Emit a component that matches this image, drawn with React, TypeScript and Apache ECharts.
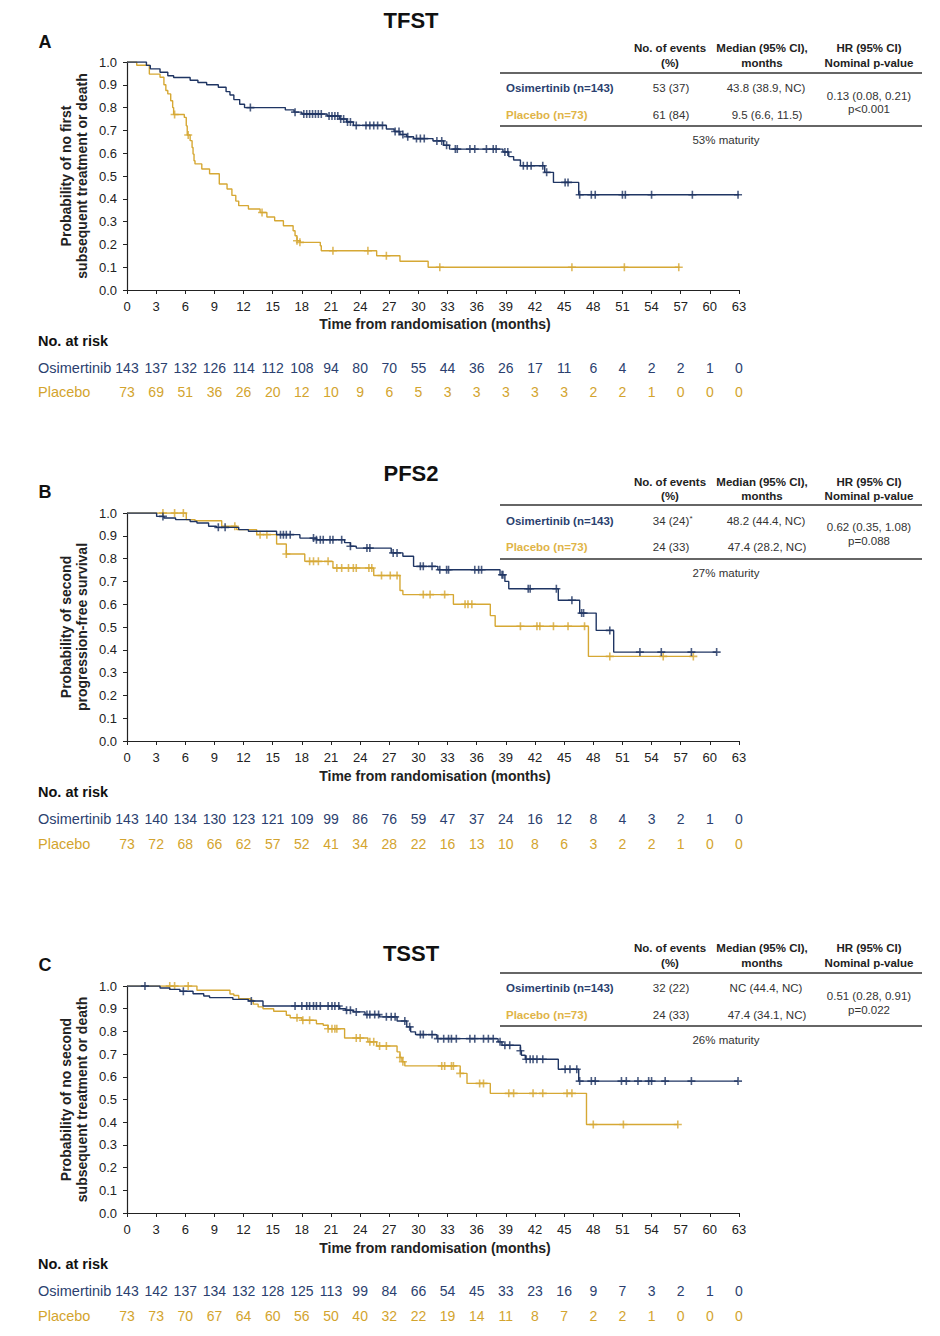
import React, { useEffect, useRef } from "react";
import * as echarts from "echarts";

const NAVY = "#1f3563";
const GOLD = "#d6a834";
const NAVY_T = "#2b3f6f";
const GOLD_T = "#d3a42e";
const FF = '"Liberation Sans", Arial, sans-serif';

const months = [0, 3, 6, 9, 12, 15, 18, 21, 24, 27, 30, 33, 36, 39, 42, 45, 48, 51, 54, 57, 60, 63];

// Panel A - TFST
const tfstOsimertinib: number[][] = [[0,1],[2.0,0.985],[2.4,0.97],[3.4,0.955],[4.2,0.94],[4.8,0.932],[6.5,0.92],[7.3,0.91],[8.2,0.9],[9.4,0.889],[10.2,0.87],[10.6,0.855],[11.0,0.835],[11.6,0.815],[12.1,0.8],[16.3,0.79],[17.2,0.78],[18.0,0.772],[20.6,0.763],[21.9,0.75],[22.6,0.737],[23.3,0.722],[26.7,0.706],[27.5,0.695],[28.1,0.682],[28.8,0.672],[29.5,0.664],[31.5,0.654],[32.6,0.635],[33.2,0.618],[38.7,0.605],[39.3,0.585],[39.8,0.57],[40.5,0.545],[43.0,0.516],[43.9,0.472],[46.5,0.418],[63,0.418]];
const tfstOsimertinibCensor = [12.7,17.3,18.2,18.5,18.8,19.1,19.4,19.7,20.0,20.8,21.1,21.4,21.7,22.0,22.3,22.7,23.0,23.6,24.6,25.0,25.4,25.8,26.3,27.6,28.0,28.4,28.9,29.8,30.2,30.6,31.9,32.4,32.9,33.8,34.0,35.3,35.8,37.0,37.7,38.0,38.9,39.2,40.8,41.2,41.6,42.8,43.2,45.1,45.4,46.6,47.8,48.2,51.0,51.3,54.0,58.2,62.9];
const tfstPlacebo: number[][] = [[0,1],[1.0,0.986],[2.3,0.947],[3.4,0.933],[3.8,0.9],[4.0,0.875],[4.2,0.86],[4.5,0.83],[4.7,0.8],[4.8,0.77],[5.9,0.757],[6.1,0.72],[6.2,0.68],[6.5,0.655],[6.7,0.625],[6.8,0.596],[6.9,0.567],[7.0,0.553],[7.7,0.531],[8.5,0.51],[9.5,0.465],[10.3,0.443],[10.8,0.415],[11.2,0.39],[11.5,0.37],[12.5,0.355],[13.7,0.34],[14.4,0.32],[15.2,0.304],[16.1,0.282],[17.1,0.26],[17.3,0.238],[17.5,0.216],[17.8,0.209],[19.9,0.194],[20.0,0.172],[25.7,0.15],[28.1,0.126],[31.0,0.1],[56.9,0.1]];
const tfstPlaceboCensor = [4.9,6.3,13.9,17.5,17.8,21.2,24.8,26.7,32.2,45.8,51.2,56.8];
const tfstRiskOsimertinib = [143,137,132,126,114,112,108,94,80,70,55,44,36,26,17,11,6,4,2,2,1,0];
const tfstRiskPlacebo = [73,69,51,36,26,20,12,10,9,6,5,3,3,3,3,3,2,2,1,0,0,0];

// Panel B - PFS2
const pfs2Osimertinib: number[][] = [[0,1],[3.05,0.985],[3.8,0.978],[5.0,0.971],[6.5,0.963],[7.2,0.956],[8.4,0.942],[9.2,0.937],[11.5,0.927],[12.5,0.92],[15.4,0.905],[17.8,0.89],[19.5,0.883],[22.4,0.87],[23.0,0.854],[23.6,0.846],[27.2,0.825],[28.4,0.81],[29.5,0.766],[32.0,0.751],[38.4,0.729],[38.9,0.7],[39.3,0.668],[44.4,0.617],[46.6,0.561],[48.3,0.485],[50.1,0.39],[60.7,0.39]];
const pfs2OsimertinibCensor = [3.7,9.4,10.1,15.8,16.1,16.4,16.8,19.2,19.5,19.9,20.2,20.9,21.2,22.1,23.0,24.7,25.0,27.4,27.8,30.2,30.5,31.4,32.2,32.9,33.1,35.8,36.2,36.5,38.6,38.7,41.3,41.5,44.2,45.8,46.8,47.0,49.7,52.8,55.0,58.1,60.7];
const pfs2Placebo: number[][] = [[0,1],[6.1,0.971],[7.0,0.966],[9.75,0.942],[11.3,0.927],[13.35,0.905],[15.4,0.864],[16.4,0.82],[18.3,0.788],[21.2,0.759],[25.4,0.726],[28.1,0.66],[28.4,0.642],[33.6,0.6],[37.4,0.55],[37.9,0.503],[47.5,0.371],[58.3,0.371]];
const pfs2PlaceboCensor = [3.7,4.9,5.8,11.1,13.7,14.4,16.4,18.8,19.2,19.7,20.7,21.6,22.1,22.8,23.3,23.6,24.9,25.2,26.2,27.1,27.8,30.5,31.2,32.7,34.8,35.1,35.5,40.5,42.2,42.5,43.9,45.4,47.1,49.7,55.2,58.3];
const pfs2RiskOsimertinib = [143,140,134,130,123,121,109,99,86,76,59,47,37,24,16,12,8,4,3,2,1,0];
const pfs2RiskPlacebo = [73,72,68,66,62,57,52,41,34,28,22,16,13,10,8,6,3,2,2,1,0,0];

// Panel C - TSST
const tsstOsimertinib: number[][] = [[0,1],[3.4,0.991],[4.4,0.985],[5.45,0.977],[6.8,0.966],[7.9,0.956],[8.5,0.949],[10.9,0.941],[12.5,0.934],[14.0,0.912],[21.9,0.9],[22.5,0.893],[23.3,0.886],[24.5,0.874],[26.0,0.864],[27.8,0.846],[28.8,0.82],[29.2,0.798],[29.7,0.786],[31.9,0.768],[38.2,0.754],[38.6,0.739],[40.5,0.715],[40.6,0.695],[41.0,0.677],[44.4,0.633],[46.5,0.581],[62.9,0.581]];
const tsstOsimertinibCensor = [1.85,5.8,12.8,17.3,18.0,18.5,18.8,19.2,19.5,19.9,20.7,21.1,21.4,21.8,22.6,23.0,23.6,24.7,25.0,25.5,25.9,26.7,27.2,27.6,28.6,29.1,30.2,30.5,31.4,32.0,32.6,33.1,33.4,33.9,35.3,35.8,36.7,37.2,37.7,38.4,38.9,39.4,40.5,41.1,41.5,41.8,42.2,42.8,45.1,45.6,46.3,46.6,47.8,48.2,50.9,51.4,52.6,53.7,54.0,55.4,58.1,62.9];
const tsstPlacebo: number[][] = [[0,1],[7.2,0.981],[10.6,0.965],[11.0,0.958],[11.5,0.944],[12.7,0.937],[13.0,0.92],[13.5,0.908],[14.0,0.9],[15.1,0.889],[16.4,0.871],[16.8,0.86],[18.0,0.849],[19.5,0.834],[20.2,0.827],[20.7,0.812],[22.4,0.771],[24.8,0.754],[25.7,0.736],[27.8,0.71],[28.1,0.685],[28.3,0.666],[28.6,0.648],[34.3,0.615],[35.0,0.571],[37.4,0.527],[47.3,0.39],[56.7,0.39]];
const tsstPlaceboCensor = [4.4,4.9,6.3,17.5,18.1,18.8,20.7,21.1,21.4,21.6,23.6,24.0,25.0,25.4,26.0,26.7,28.1,28.4,32.4,32.7,33.4,33.6,34.3,36.3,36.7,39.3,39.8,41.8,42.8,45.3,45.8,48.0,51.1,56.7];
const tsstRiskOsimertinib = [143,142,137,134,132,128,125,113,99,84,66,54,45,33,23,16,9,7,3,2,1,0];
const tsstRiskPlacebo = [73,73,70,67,64,60,56,50,40,32,22,19,14,11,8,7,2,2,1,0,0,0];

const tfstTable = { events: ["53 (37)", "61 (84)"], median: ["43.8 (38.9, NC)", "9.5 (6.6, 11.5)"], hr: ["0.13 (0.08, 0.21)", "p<0.001"], maturity: "53% maturity" };
const pfs2Table = { events: ["34 (24)", "24 (33)"], median: ["48.2 (44.4, NC)", "47.4 (28.2, NC)"], hr: ["0.62 (0.35, 1.08)", "p=0.088"], maturity: "27% maturity" };
const tsstTable = { events: ["32 (22)", "24 (33)"], median: ["NC (44.4, NC)", "47.4 (34.1, NC)"], hr: ["0.51 (0.28, 0.91)", "p=0.022"], maturity: "26% maturity" };

const panels = [
  { title: "TFST", letter: "A", top: 62, h: 228, titleY: 20, letterY: 42, yTitle: ["Probability of no first", "subsequent treatment or death"],
    osi: tfstOsimertinib, osiC: tfstOsimertinibCensor, pla: tfstPlacebo, plaC: tfstPlaceboCensor, riskO: tfstRiskOsimertinib, riskP: tfstRiskPlacebo, table: tfstTable,
    tb: { h1: 48, h2: 63, l1: 73, r1: 88, r2: 115, hr1: 95.5, hr2: 109, l2: 126, mat: 140 }, xTitleY: 324, rk: { h: 341, r1: 368, r2: 392 }, star: false },
  { title: "PFS2", letter: "B", top: 513, h: 228, titleY: 473, letterY: 492, yTitle: ["Probability of second", "progression-free survival"],
    osi: pfs2Osimertinib, osiC: pfs2OsimertinibCensor, pla: pfs2Placebo, plaC: pfs2PlaceboCensor, riskO: pfs2RiskOsimertinib, riskP: pfs2RiskPlacebo, table: pfs2Table,
    tb: { h1: 482, h2: 496, l1: 505, r1: 521, r2: 547, hr1: 527, hr2: 541, l2: 559, mat: 573 }, xTitleY: 776, rk: { h: 792, r1: 819, r2: 844 }, star: true },
  { title: "TSST", letter: "C", top: 986, h: 227, titleY: 953, letterY: 965, yTitle: ["Probability of no second", "subsequent treatment or death"],
    osi: tsstOsimertinib, osiC: tsstOsimertinibCensor, pla: tsstPlacebo, plaC: tsstPlaceboCensor, riskO: tsstRiskOsimertinib, riskP: tsstRiskPlacebo, table: tsstTable,
    tb: { h1: 948, h2: 963, l1: 973, r1: 988, r2: 1015, hr1: 996, hr2: 1010, l2: 1026, mat: 1040 }, xTitleY: 1248, rk: { h: 1264, r1: 1291, r2: 1316 }, star: false },
];

function sAt(steps: number[][], t: number) {
  let v = steps[0][1];
  for (const p of steps) { if (p[0] <= t) v = p[1]; }
  return v;
}

const PLUS = "path://M4,0H6V4H10V6H6V10H4V6H0V4H4Z";

function txt(x: number, y: number, text: string, o: any = {}) {
  const align = o.align || "center";
  return {
    type: "text", x, y, rotation: o.rot || 0, silent: true, z: 10,
    style: {
      text, fill: o.color || "#222",
      font: `${o.bold ? "bold " : ""}${o.size || 13}px ${FF}`,
      textAlign: align, textVerticalAlign: "middle", align, verticalAlign: "middle",
    },
  };
}
function hline(x1: number, x2: number, y: number) {
  return { type: "line", silent: true, shape: { x1, y1: y, x2, y2: y }, style: { stroke: "#333", lineWidth: 1.4 } };
}

export default function App() {
  const ref = useRef<HTMLDivElement>(null);
  useEffect(() => {
    const chart = echarts.init(ref.current!, null, { renderer: "svg" });
    const grid: any[] = [], xAxis: any[] = [], yAxis: any[] = [], series: any[] = [];
    panels.forEach((p, i) => {
      grid.push({ left: 127, width: 612, top: p.top, height: p.h });
      xAxis.push({
        gridIndex: i, type: "value", min: 0, max: 63, interval: 3,
        axisLine: { show: true, onZero: false, lineStyle: { color: "#222", width: 1.2 } },
        axisTick: { show: true, length: 4, lineStyle: { color: "#222" } },
        axisLabel: { fontSize: 13, color: "#222", margin: 10, fontFamily: FF },
        splitLine: { show: false },
      });
      yAxis.push({
        gridIndex: i, type: "value", min: 0, max: 1, interval: 0.1,
        axisLine: { show: true, onZero: false, lineStyle: { color: "#222", width: 1.2 } },
        axisTick: { show: true, length: 4, lineStyle: { color: "#222" } },
        axisLabel: { fontSize: 13, color: "#222", margin: 10, fontFamily: FF, formatter: (v: number) => v.toFixed(1) },
        splitLine: { show: false },
      });
      const line = (data: number[][], color: string, z: number) => ({
        type: "line", xAxisIndex: i, yAxisIndex: i, step: "end", data, symbol: "none", showSymbol: false,
        lineStyle: { color, width: 1.4 }, z, silent: true,
      });
      const cens = (times: number[], steps: number[][], color: string, z: number) => ({
        type: "scatter", xAxisIndex: i, yAxisIndex: i, data: times.map((t) => [t, sAt(steps, t)]),
        symbol: PLUS, symbolSize: 8, itemStyle: { color }, z, silent: true,
      });
      series.push(line(p.pla, GOLD, 2), cens(p.plaC, p.pla, GOLD, 3), line(p.osi, NAVY, 4), cens(p.osiC, p.osi, NAVY, 5));
    });
    chart.setOption({ animation: false, backgroundColor: "#fff", grid, xAxis, yAxis, series });

    const g: any[] = [];
    panels.forEach((p, i) => {
      g.push(txt(411, p.titleY, p.title, { bold: true, size: 22, color: "#111" }));
      g.push(txt(45, p.letterY, p.letter, { bold: true, size: 18, color: "#111" }));
      const yc = p.top + p.h / 2;
      g.push(txt(66, yc, p.yTitle[0], { bold: true, size: 14, rot: Math.PI / 2 }));
      g.push(txt(82, yc, p.yTitle[1], { bold: true, size: 14, rot: Math.PI / 2 }));
      g.push(txt(435, p.xTitleY, "Time from randomisation (months)", { bold: true, size: 14 }));
      // summary table
      const tb = p.tb;
      g.push(txt(670, tb.h1, "No. of events", { bold: true, size: 11.5 }));
      g.push(txt(670, tb.h2, "(%)", { bold: true, size: 11.5 }));
      g.push(txt(762, tb.h1, "Median (95% CI),", { bold: true, size: 11.5 }));
      g.push(txt(762, tb.h2, "months", { bold: true, size: 11.5 }));
      g.push(txt(869, tb.h1, "HR (95% CI)", { bold: true, size: 11.5 }));
      g.push(txt(869, tb.h2, "Nominal p-value", { bold: true, size: 11.5 }));
      g.push(hline(500, 922, tb.l1));
      g.push(txt(506, tb.r1, "Osimertinib (n=143)", { bold: true, size: 11.5, color: NAVY_T, align: "left" }));
      g.push(txt(506, tb.r2, "Placebo (n=73)", { bold: true, size: 11.5, color: "#e0b447", align: "left" }));
      g.push(txt(671, tb.r1, p.table.events[0], { size: 11.5, color: "#333" }));
      if (p.star) g.push(txt(691, tb.r1 - 3, "*", { size: 8, color: "#333" }));
      g.push(txt(671, tb.r2, p.table.events[1], { size: 11.5, color: "#333" }));
      g.push(txt(766, tb.r1, p.table.median[0], { size: 11.5, color: "#333" }));
      g.push(txt(767, tb.r2, p.table.median[1], { size: 11.5, color: "#333" }));
      g.push(txt(869, tb.hr1, p.table.hr[0], { size: 11.5, color: "#333" }));
      g.push(txt(869, tb.hr2, p.table.hr[1], { size: 11.5, color: "#333" }));
      g.push(hline(500, 922, tb.l2));
      g.push(txt(726, tb.mat, p.table.maturity, { size: 11.5, color: "#333" }));
      // risk table
      g.push(txt(38, p.rk.h, "No. at risk", { bold: true, size: 14.5, align: "left", color: "#111" }));
      g.push(txt(38, p.rk.r1, "Osimertinib", { size: 14.5, align: "left", color: NAVY_T }));
      g.push(txt(38, p.rk.r2, "Placebo", { size: 14.5, align: "left", color: GOLD_T }));
      months.forEach((m, k) => {
        const x = chart.convertToPixel({ xAxisIndex: i }, m) as number;
        g.push(txt(x, p.rk.r1, String(p.riskO[k]), { size: 14, color: NAVY_T }));
        g.push(txt(x, p.rk.r2, String(p.riskP[k]), { size: 14, color: GOLD_T }));
      });
    });
    chart.setOption({ graphic: g });
    return () => chart.dispose();
  }, []);
  return <div ref={ref} style={{ position: "absolute", left: 0, top: 0, width: 940, height: 1336, background: "#fff" }} />;
}
